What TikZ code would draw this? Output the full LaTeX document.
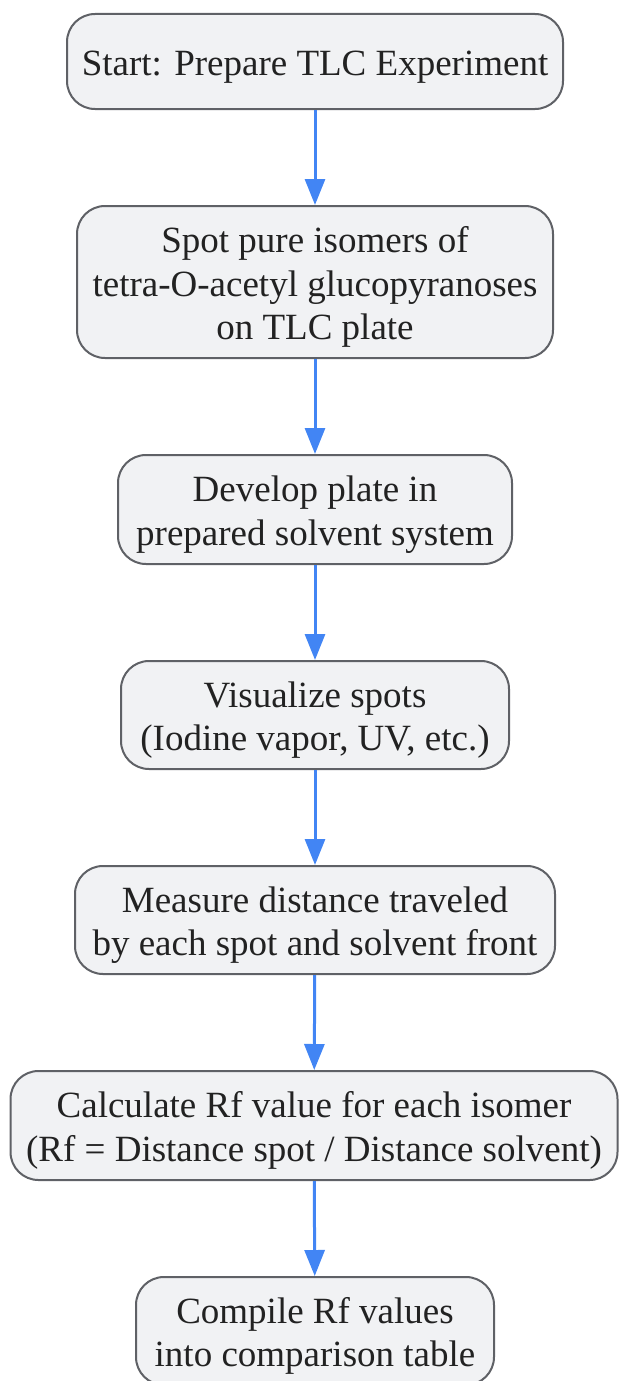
\documentclass[tikz,border=0pt]{standalone}
\usepackage{fontspec}
\setmainfont{Liberation Serif}
\usetikzlibrary{arrows.meta}
\definecolor{boxfill}{HTML}{F1F2F4}
\definecolor{boxline}{HTML}{5F6166}
\definecolor{flowblue}{HTML}{4285F4}
\definecolor{txt}{HTML}{222222}
\newcommand{\topstrut}{\rule{0pt}{40pt}}
\newcommand{\botstrut}{\rule[-12pt]{0pt}{0pt}}

\begin{document}
\begin{tikzpicture}[x=1pt,y=-1pt,
  stepbox/.style={draw=boxline,line width=2pt,fill=boxfill,rounded corners=28pt,
    align=center,text=txt,inner sep=0pt,font=\fontsize{37}{43.5}\selectfont},
  flow/.style={draw=flowblue,line width=3pt,-{Triangle[length=26pt,width=20pt]}}]
  \useasboundingbox (0,0) rectangle (619,1381);
  \node[stepbox,minimum width=496pt,minimum height=95pt] (start) at (315,61.5)
    {\topstrut Start: Prepare TLC Experiment\botstrut};
  \node[stepbox,minimum width=476pt,minimum height=152pt] (spot) at (315,282)
    {\topstrut Spot pure isomers of\\tetra-O-acetyl glucopyranoses\\on TLC plate\botstrut};
  \node[stepbox,minimum width=394pt,minimum height=109pt] (develop) at (315,509.5)
    {\topstrut Develop plate in\\prepared solvent system\botstrut};
  \node[stepbox,minimum width=388pt,minimum height=108pt] (visual) at (315,715)
    {\topstrut Visualize spots\\(Iodine vapor, UV, etc.)\botstrut};
  \node[stepbox,minimum width=480pt,minimum height=108pt] (measure) at (315,920)
    {\topstrut Measure distance traveled\\by each spot and solvent front\botstrut};
  \node[stepbox,minimum width=607pt,minimum height=109pt] (calc) at (314,1125.5)
    {\topstrut Calculate Rf value for each isomer\\(Rf = Distance spot / Distance solvent)\botstrut};
  \node[stepbox,minimum width=358pt,minimum height=108pt] (compile) at (315,1331)
    {\topstrut Compile Rf values\\into comparison table\botstrut};
  % connectors
  \draw[flow] (start) -- (spot);
  \draw[flow] (spot) -- (develop);
  \draw[flow] (develop) -- (visual);
  \draw[flow] (visual) -- (measure);
  \draw[flow] (measure) -- (calc);
  \draw[flow] (calc) -- (compile);
\end{tikzpicture}
\end{document}
